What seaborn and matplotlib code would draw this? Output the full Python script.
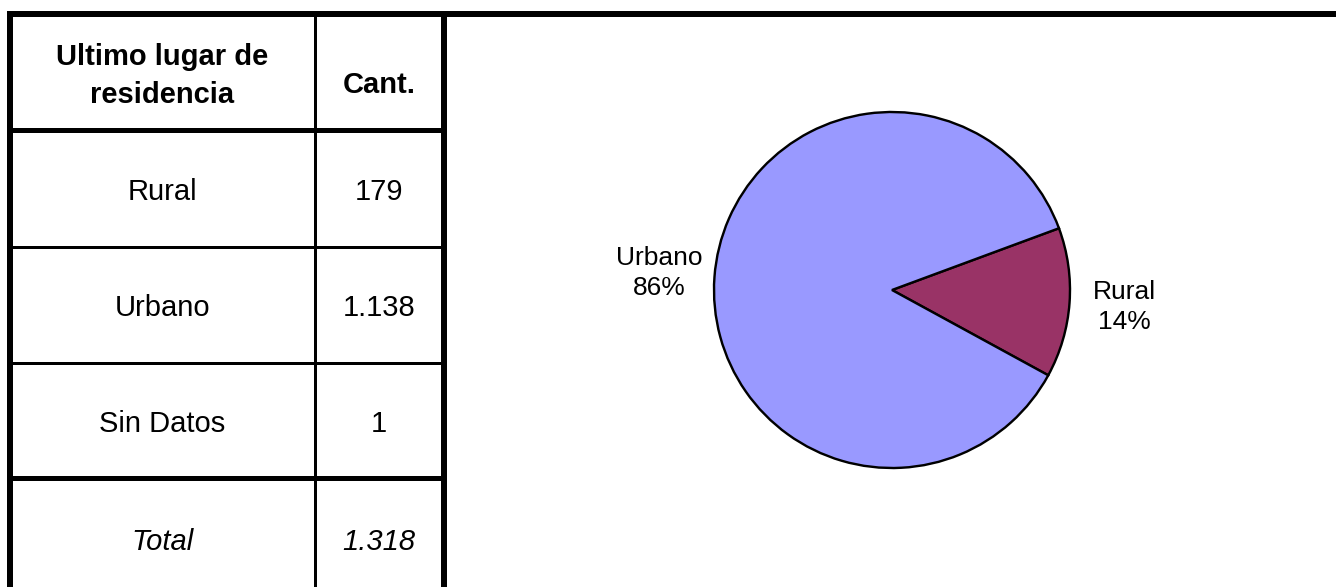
import matplotlib
matplotlib.use("Agg")
import matplotlib.pyplot as plt
import seaborn as sns

# table data
header = ["Ultimo lugar de\nresidencia", "Cant."]
row_names = ["Rural", "Urbano", "Sin Datos"]
row_counts = ["179", "1.138", "1"]
total_name = "Total"
total_count = "1.318"

# pie data (Sin Datos is left out of the chart)
pie_names = ["Rural", "Urbano"]
pie_values = [179, 1138]
pie_colors = ["#993366", "#9999FF"]

sns.set_style("white")
plt.rcParams["font.family"] = ["Liberation Sans", "DejaVu Sans"]
plt.rcParams["text.color"] = "black"

W, H, DPI = 1336, 587, 100
fig = plt.figure(figsize=(W / DPI, H / DPI), dpi=DPI)


def px(v):
    # pixel width -> points
    return v * 72 / DPI


# ---- table drawn in pixel coordinates ----
tab = fig.add_axes([0, 0, 1, 1])
tab.set_xlim(0, W)
tab.set_ylim(H, 0)
tab.axis("off")

x_left, x_mid, x_right = 10, 314.5, 444
row_edges = [14, 130, 246.5, 363, 478, 598]

# outer frame
tab.plot([7, W], [14, 14], color="black", lw=px(6), solid_capstyle="butt")
tab.plot([x_left, x_left], [11, H], color="black", lw=px(6), solid_capstyle="butt")
tab.plot([x_right, x_right], [11, H], color="black", lw=px(6), solid_capstyle="butt")
tab.plot([x_mid, x_mid], [14, H], color="black", lw=px(3), solid_capstyle="butt")

# row separators
for i, y in enumerate(row_edges[1:-1]):
    thick = i == 0 or i == len(row_edges) - 3
    tab.plot([x_left, x_right], [y, y], color="black",
             lw=px(5 if thick else 3), solid_capstyle="butt")

c1 = (x_left + x_mid) / 2
c2 = (x_mid + x_right) / 2


def row_center(i):
    return (row_edges[i] + row_edges[i + 1]) / 2 + 0.5


FS = 21
tab.text(c1, 76, header[0], ha="center", va="center",
         fontsize=FS, fontweight="bold", multialignment="center", linespacing=1.42)
tab.text(c2, 82, header[1], ha="center", va="center_baseline",
         fontsize=FS, fontweight="bold")

for i, (name, cnt) in enumerate(zip(row_names, row_counts), start=1):
    tab.text(c1, row_center(i), name, ha="center", va="center_baseline", fontsize=FS)
    tab.text(c2, row_center(i), cnt, ha="center", va="center_baseline", fontsize=FS)

tab.text(c1, row_center(4), total_name, ha="center", va="center_baseline",
         fontsize=FS, style="italic")
tab.text(c2, row_center(4), total_count, ha="center", va="center_baseline",
         fontsize=FS, style="italic")

# ---- pie chart ----
cx, cy, r = 892, 290, 178
pie_ax = fig.add_axes([(cx - r) / W, (H - cy - r) / H, 2 * r / W, 2 * r / H])

total = sum(pie_values)
labels = [f"{n}\n{v / total * 100:.0f}%" for n, v in zip(pie_names, pie_values)]

pie_ax.pie(pie_values, labels=labels, colors=pie_colors, startangle=20.3,
           counterclock=False, labeldistance=1.31,
           wedgeprops={"edgecolor": "black", "linewidth": px(2.4), "clip_on": False},
           textprops={"fontsize": 19, "ha": "center", "va": "center", "color": "black",
                      "multialignment": "center", "linespacing": 1.32})
pie_ax.set_xlim(-1, 1)
pie_ax.set_ylim(-1, 1)
pie_ax.axis("off")

fig.savefig("out.png", dpi=DPI)
